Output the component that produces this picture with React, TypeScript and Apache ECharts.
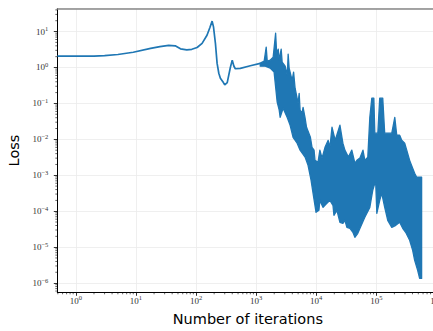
import React, { useEffect, useRef } from "react";
import * as echarts from "echarts";

// ---- data ----
const smoothIters = [0.49, 1, 2, 3, 5, 9, 17.5, 25, 35, 45, 55, 70, 85, 104, 126, 152, 170, 185, 195, 210, 224, 239, 254, 285, 300, 330, 372, 400, 425, 450, 545, 800, 1170];
const smoothLoss = [2.06, 2.06, 2.08, 2.14, 2.3, 2.65, 3.4, 3.8, 4.1, 4.0, 3.3, 3.1, 3.2, 3.6, 4.7, 7.9, 13, 19.5, 13.5, 4.7, 1.3, 0.69, 0.5, 0.38, 0.33, 0.38, 1.0, 1.6, 1.1, 0.92, 0.94, 1.12, 1.3];

const bandUpperIters = [1170, 1360, 1470, 1530, 1710, 1920, 2110, 2200, 2330, 2420, 2610, 2710, 3040, 3300, 3410, 3540, 3970, 4200, 4450, 4990, 5200, 5390, 5800, 6040, 6500, 6900, 8000, 8510, 9200, 9550, 10700, 11500, 12500, 14000, 15800, 16900, 18300, 20700, 24800, 27800, 30000, 34300, 39100, 44000, 47500, 53200, 60000, 64400, 72200, 78000, 84200, 91000, 94500, 106000, 114000, 128000, 138000, 155000, 181000, 203000, 219000, 245000, 265000, 297000, 321000, 359000, 403000, 435000, 470000, 568000];
const bandUpperLoss = [1.32, 1.5, 3.68, 1.5, 1.6, 1.94, 9.0, 2.35, 3.23, 1.6, 3.23, 1.41, 1.09, 0.61, 2.35, 0.96, 0.44, 0.74, 0.265, 0.101, 0.19, 0.065, 0.053, 0.078, 0.041, 0.0217, 0.0114, 0.006, 0.005, 0.0026, 0.0023, 0.005, 0.003, 0.006, 0.0094, 0.006, 0.0217, 0.0094, 0.0247, 0.0078, 0.005, 0.0032, 0.005, 0.00216, 0.0026, 0.003, 0.005, 0.0026, 0.0032, 0.041, 0.14, 0.14, 0.0148, 0.0148, 0.14, 0.14, 0.0148, 0.0148, 0.0148, 0.041, 0.013, 0.013, 0.0094, 0.0078, 0.005, 0.0026, 0.00157, 0.00114, 0.00088, 0.00088];

const bandLowerIters = [1170, 1420, 1710, 1990, 2240, 2420, 2510, 2810, 3280, 3680, 4120, 4810, 5390, 6520, 7310, 8200, 8850, 9930, 11100, 11500, 13000, 14500, 16900, 19000, 19700, 22100, 24800, 27800, 30000, 32400, 36400, 40800, 44000, 49200, 64400, 78000, 87500, 94500, 98100, 102000, 114000, 123000, 138000, 155000, 181000, 211000, 245000, 275000, 308000, 359000, 403000, 435000, 488000, 526000, 568000];
const bandLowerLoss = [1.09, 1.09, 0.96, 0.74, 0.108, 0.065, 0.041, 0.0735, 0.041, 0.0247, 0.0114, 0.0078, 0.005, 0.0032, 0.0019, 0.00073, 0.00032, 0.0000931, 0.000106, 0.0002, 0.000128, 0.000156, 0.000201, 0.000146, 0.0000769, 0.000106, 0.0000491, 0.000046, 0.0000558, 0.0000356, 0.0000334, 0.0000259, 0.0000188, 0.0000242, 0.0000676, 0.000128, 0.00039, 0.0006, 0.00053, 0.0000875, 0.000201, 0.00032, 0.000128, 0.0000558, 0.0000356, 0.0000405, 0.0000491, 0.0000334, 0.0000259, 0.0000155, 0.0000081, 0.0000043, 0.00000226, 0.00000135, 0.00000135];

// axis ranges
const X_MIN = 0.49;
const X_MAX = 1.585e6;
const Y_MIN = 5.54e-7;
const Y_MAX = 43.2;

// log minor tick multipliers and decades
const minorMultipliers = [2, 3, 4, 5, 6, 7, 8, 9];
const xDecades = [-1, 0, 1, 2, 3, 4, 5, 6];
const yDecades = [-7, -6, -5, -4, -3, -2, -1, 0, 1];

const xAxisTitle = "Number of iterations";
const yAxisTitle = "Loss";

const BLUE = "#1f77b4";
const SERIF = "'Liberation Serif', 'DejaVu Serif', serif";
const SANS = "'DejaVu Sans', sans-serif";
const LABEL_COLOR = "#333";

function minorValues(decades: number[], lo: number, hi: number) {
  const out: number[] = [];
  decades.forEach((d) => {
    minorMultipliers.forEach((m) => {
      const v = m * Math.pow(10, d);
      if (v > lo && v < hi) out.push(v);
    });
  });
  return out;
}

function powLabel(v: number) {
  const e = Math.round(Math.log10(v));
  const es = e < 0 ? "\u2212" + Math.abs(e) : String(e);
  return "{b|10}{s|" + es + "}";
}

const richStyle = {
  b: { fontFamily: SERIF, fontSize: 9, lineHeight: 13, color: LABEL_COLOR, verticalAlign: "middle" },
  s: { fontFamily: SERIF, fontSize: 6.5, color: LABEL_COLOR, verticalAlign: "top" },
};

export default function App() {
  const ref = useRef<HTMLDivElement>(null);

  useEffect(() => {
    if (!ref.current) return;
    const chart = echarts.init(ref.current, undefined, { renderer: "svg" });

    const xMinor = minorValues(xDecades, X_MIN, X_MAX);
    const yMinor = minorValues(yDecades, Y_MIN, Y_MAX);

    const axisLineStyle = { color: "#000", width: 1 };

    chart.setOption({
      animation: false,
      backgroundColor: "#fff",
      grid: {
        left: 57.3,
        top: 8.7,
        right: -15.4,
        bottom: 38.7,
        containLabel: false,
        outerBoundsMode: "none",
      },
      xAxis: [
        {
          type: "log",
          logBase: 10,
          min: X_MIN,
          max: X_MAX,
          axisLine: { show: true, lineStyle: axisLineStyle },
          axisTick: { show: true, inside: false, length: 3.5, lineStyle: { color: "#000", width: 0.8 } },
          splitLine: { show: true, lineStyle: { color: "#ebebeb", width: 0.8 } },
          axisLabel: {
            formatter: powLabel,
            rich: richStyle,
            margin: 2,
            showMinLabel: false,
            showMaxLabel: false,
          },
          name: xAxisTitle,
          nameLocation: "middle",
          nameGap: 19,
          nameTextStyle: { fontFamily: SANS, fontSize: 14.5, color: "#000", padding: [0, 10, 0, 0] },
        },
        {
          type: "log",
          logBase: 10,
          min: X_MIN,
          max: X_MAX,
          position: "top",
          axisLine: { show: true, lineStyle: { color: "#888", width: 1.5 } },
          axisTick: { show: false },
          axisLabel: { show: false },
          splitLine: { show: false },
        },
      ],
      yAxis: {
        type: "log",
        logBase: 10,
        min: Y_MIN,
        max: Y_MAX,
        axisLine: { show: true, lineStyle: axisLineStyle },
        axisTick: { show: true, inside: false, length: 3.5, lineStyle: { color: "#000", width: 0.8 } },
        splitLine: { show: true, lineStyle: { color: "#ebebeb", width: 0.8 } },
        axisLabel: {
          formatter: powLabel,
          rich: richStyle,
          margin: 9,
          showMinLabel: false,
          showMaxLabel: false,
        },
        name: yAxisTitle,
        nameLocation: "middle",
        nameGap: 32,
        nameTextStyle: { fontFamily: SANS, fontSize: 14.5, color: "#000" },
      },
      series: [
        {
          type: "line",
          name: "loss",
          xAxisIndex: 0,
          data: smoothIters.map((x, i) => [x, smoothLoss[i]]),
          showSymbol: false,
          symbol: "none",
          lineStyle: { color: BLUE, width: 1.7 },
          clip: true,
          z: 3,
        },
        {
          type: "custom",
          name: "band",
          xAxisIndex: 0,
          clip: true,
          z: 3,
          data: [[bandUpperIters[0], bandUpperLoss[0]]],
          renderItem: (params: any, api: any) => {
            const pts: number[][] = [];
            for (let i = 0; i < bandUpperIters.length; i++) {
              pts.push(api.coord([bandUpperIters[i], bandUpperLoss[i]]));
            }
            for (let i = bandLowerIters.length - 1; i >= 0; i--) {
              pts.push(api.coord([bandLowerIters[i], bandLowerLoss[i]]));
            }
            return {
              type: "polygon",
              shape: { points: pts },
              style: { fill: BLUE, stroke: BLUE, lineWidth: 1.3, lineJoin: "round" },
            };
          },
        },
        {
          type: "custom",
          name: "xMinorTicks",
          xAxisIndex: 0,
          clip: false,
          silent: true,
          z: 4,
          data: xMinor.map((v) => [v, Y_MIN]),
          renderItem: (params: any, api: any) => {
            const p = api.coord([api.value(0), Y_MIN]);
            return {
              type: "line",
              shape: { x1: p[0], y1: p[1], x2: p[0], y2: p[1] + 2 },
              style: { stroke: "#000", lineWidth: 0.6 },
            };
          },
        },
        {
          type: "custom",
          name: "yMinorTicks",
          xAxisIndex: 0,
          clip: false,
          silent: true,
          z: 4,
          data: yMinor.map((v) => [X_MIN, v]),
          renderItem: (params: any, api: any) => {
            const p = api.coord([X_MIN, api.value(1)]);
            return {
              type: "line",
              shape: { x1: p[0] - 2, y1: p[1], x2: p[0], y2: p[1] },
              style: { stroke: "#000", lineWidth: 0.6 },
            };
          },
        },
      ],
    });

    return () => chart.dispose();
  }, []);

  return (
    <div
      ref={ref}
      style={{ position: "absolute", left: 0, top: 0, width: 433, height: 331 }}
    />
  );
}
